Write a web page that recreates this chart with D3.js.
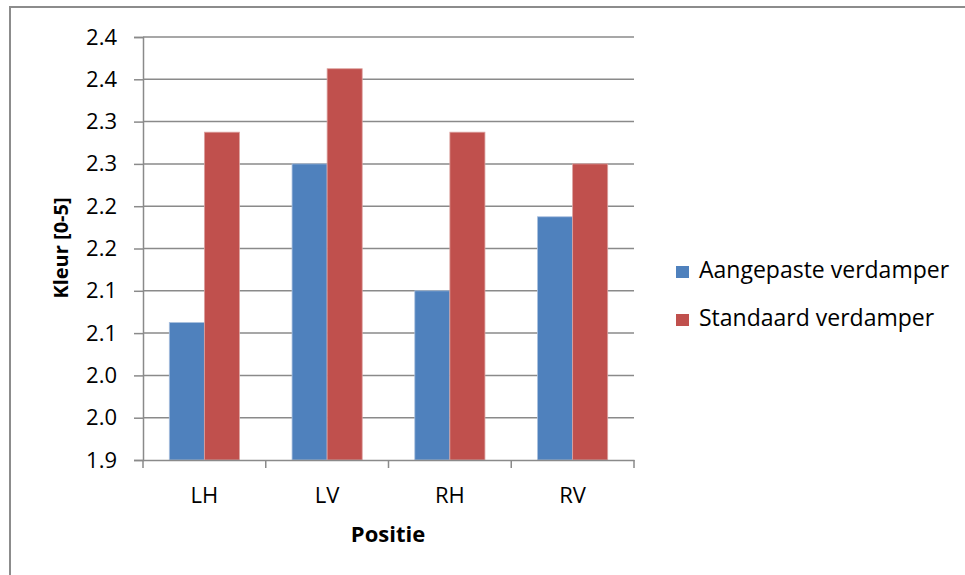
<!DOCTYPE html>
<html>
<head>
<meta charset="utf-8">
<script src="https://cdn.jsdelivr.net/npm/d3@7"></script>
<style>
  html, body { margin: 0; padding: 0; background: #fff; }
  svg { display: block; font-family: "Open Sans", Lato, sans-serif; }
</style>
</head>
<body>
<svg id="chart" width="965" height="575"></svg>
<script>
// Positions along the x axis
const categories = ["LH", "LV", "RH", "RV"];
// Series names as shown in the legend
const seriesNames = ["Aangepaste verdamper", "Standaard verdamper"];
// Mean colour score per position
const aangepaste = [2.0625, 2.25, 2.1, 2.1875];
const standaard = [2.2875, 2.3625, 2.2875, 2.25];
// Axis ticks (labels rounded to one decimal)
const yTicks = [1.9, 1.95, 2.0, 2.05, 2.1, 2.15, 2.2, 2.25, 2.3, 2.35, 2.4];
const colors = ["#4F81BD", "#C0504D"];

const series = [aangepaste, standaard];
const FONT = "'Open Sans', Lato, sans-serif";

const svg = d3.select("#chart");
const margin = { left: 143, right: 634, top: 37, bottom: 460 };

// Outer chart frame
svg.append("rect")
  .attr("x", 10).attr("y", 7)
  .attr("width", 1000).attr("height", 1000)
  .attr("fill", "none").attr("stroke", "#8c8c8c").attr("stroke-width", 2);

const x = d3.scaleBand().domain(categories).range([margin.left, margin.right]).paddingInner(0).paddingOuter(0);
const y = d3.scaleLinear().domain([1.9, 2.4]).range([margin.bottom, margin.top]);

// Gridlines
svg.append("g").selectAll("line").data(yTicks.slice(1)).join("line")
  .attr("x1", margin.left).attr("x2", margin.right)
  .attr("y1", d => y(d)).attr("y2", d => y(d))
  .attr("stroke", "#8a8a8a").attr("stroke-width", 1.5);

// Bars: two per category, 150% gap between groups
const bw = x.bandwidth() / 3.5;
series.forEach((vals, si) => {
  svg.append("g").selectAll("rect").data(categories).join("rect")
    .attr("x", c => x(c) + bw * 0.75 + si * bw)
    .attr("y", (c, i) => y(vals[i]))
    .attr("width", bw)
    .attr("height", (c, i) => y(1.9) - y(vals[i]))
    .attr("fill", colors[si])
    .attr("stroke", si === 0 ? "#a9c0de" : "#dca2a0")
    .attr("stroke-width", 0.8);
});

// Y axis
const yAxis = d3.axisLeft(y).tickValues(yTicks).tickSize(9).tickPadding(17)
  .tickFormat(d => (Math.round(d * 10 + 1e-9) / 10).toFixed(1));
const yg = svg.append("g").attr("transform", `translate(${margin.left},0)`).call(yAxis);
yg.select(".domain").attr("stroke", "#8a8a8a").attr("stroke-width", 1.5);
yg.selectAll(".tick line").attr("stroke", "#8a8a8a").attr("stroke-width", 1.5);
yg.selectAll(".tick text").attr("font-size", 22).attr("fill", "#000").attr("font-family", FONT);

// X axis
const xAxis = d3.axisBottom(x).tickSize(0).tickPadding(27);
const xg = svg.append("g").attr("transform", `translate(0,${margin.bottom})`).call(xAxis);
xg.select(".domain").attr("stroke", "#8a8a8a").attr("stroke-width", 1.5);
xg.selectAll(".tick text").attr("font-size", 22).attr("fill", "#000").attr("font-family", FONT);
// Category separators
svg.append("g").selectAll("line")
  .data(categories.map(c => x(c)).concat([margin.right])).join("line")
  .attr("x1", d => d).attr("x2", d => d)
  .attr("y1", margin.bottom).attr("y2", margin.bottom + 8)
  .attr("stroke", "#8a8a8a").attr("stroke-width", 1.5);

// Axis titles
svg.append("text")
  .attr("transform", `translate(68,248) rotate(-90)`)
  .attr("text-anchor", "middle")
  .attr("font-size", 20).attr("font-weight", "bold")
  .text("Kleur [0-5]");
svg.append("text")
  .attr("x", 388).attr("y", 542)
  .attr("text-anchor", "middle")
  .attr("font-size", 22).attr("font-weight", "bold")
  .text("Positie");

// Legend
const legend = svg.append("g").selectAll("g").data(seriesNames).join("g")
  .attr("transform", (d, i) => `translate(676,${266 + i * 48})`);
legend.append("rect").attr("width", 13).attr("height", 12)
  .attr("fill", (d, i) => colors[i]);
legend.append("text").attr("x", 23).attr("y", 12)
  .attr("font-size", 23).text(d => d);
</script>
</body>
</html>
